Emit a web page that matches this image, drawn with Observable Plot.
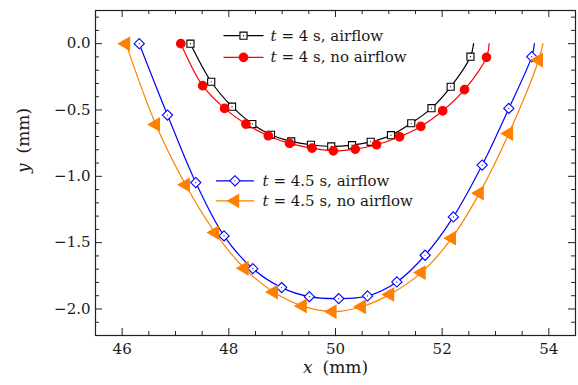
<!DOCTYPE html>
<html><head><meta charset="utf-8">
<script src="https://cdn.jsdelivr.net/npm/d3@7"></script>
<script src="https://cdn.jsdelivr.net/npm/@observablehq/plot@0.6"></script>
<style>body{margin:0;background:#fff} svg{display:block}</style>
</head><body><div id="chart"></div>
<script>
// t = 4 s, airflow
const xA4 = [47.28, 47.67, 48.06, 48.44, 48.79, 49.17, 49.54, 49.92, 50.31, 50.66, 51.04, 51.42, 51.80, 52.16, 52.53, 52.59];
const yA4 = [0.0, -0.287, -0.475, -0.606, -0.687, -0.737, -0.762, -0.775, -0.765, -0.740, -0.690, -0.600, -0.486, -0.325, -0.098, 0.0];
// t = 4 s, no airflow
const xN4 = [47.10, 47.51, 47.92, 48.32, 48.74, 49.14, 49.56, 49.96, 50.37, 50.77, 51.20, 51.60, 52.01, 52.42, 52.83, 52.88];
const yN4 = [0.0, -0.317, -0.488, -0.606, -0.694, -0.752, -0.787, -0.808, -0.795, -0.762, -0.702, -0.624, -0.506, -0.347, -0.103, 0.0];
// t = 4.5 s, airflow
const xA45 = [46.32, 46.85, 47.38, 47.91, 48.45, 48.99, 49.51, 50.06, 50.60, 51.15, 51.68, 52.21, 52.75, 53.25, 53.68, 53.73];
const yA45 = [0.0, -0.538, -1.047, -1.449, -1.696, -1.839, -1.907, -1.922, -1.902, -1.796, -1.595, -1.306, -0.915, -0.488, -0.098, 0.0];
// t = 4.5 s, no airflow
const xN45 = [46.07, 46.63, 47.19, 47.74, 48.29, 48.84, 49.38, 49.94, 50.49, 51.02, 51.61, 52.18, 52.70, 53.25, 53.81, 53.89];
const yN45 = [0.0, -0.609, -1.064, -1.424, -1.693, -1.872, -1.977, -2.020, -1.983, -1.890, -1.726, -1.466, -1.127, -0.677, -0.123, 0.0];

const seriesLabels = ["t = 4 s, airflow", "t = 4 s, no airflow", "t = 4.5 s, airflow", "t = 4.5 s, no airflow"];
const xTicks = [46, 48, 50, 52, 54];
const yTicks = [0.0, -0.5, -1.0, -1.5, -2.0];
const xTitle = "x (mm)", yTitle = "y (mm)";

const W = 578, H = 385, mL = 95, mR = 3, mT = 10, mB = 50;
const plotW = W - mL - mR, plotH = H - mT - mB;
const FONT = "DejaVu Serif";
const TXT = "#1a1a1a";

const styles = [
  {color: "#000000", symbol: "square", r: 4.0, fill: "white", open: true, rotate: 0},
  {color: "#ff0000", symbol: "circle", r: 4.3, fill: "#ff0000", open: false, rotate: 0},
  {color: "#0000ff", symbol: "diamond2", r: 4.6, fill: "white", open: true, rotate: 0},
  {color: "#ff7f00", symbol: "triangle", r: 4.8, fill: "#ff7f00", open: false, rotate: -90}
];
const xsAll = [xA4, xN4, xA45, xN45], ysAll = [yA4, yN4, yA45, yN45];
const series = xsAll.map((xs, i) => ({
  label: seriesLabels[i], style: styles[i],
  rows: xs.map((x, j) => ({x, y: ysAll[i][j], end: j === xs.length - 1}))
}));

// legend placement (data units)
const legendRows = [
  {i: 0, x1: 47.90, x2: 48.65, xt: 48.78, y: 0.06},
  {i: 1, x1: 47.90, x2: 48.65, xt: 48.78, y: -0.103},
  {i: 2, x1: 47.76, x2: 48.47, xt: 48.63, y: -1.034},
  {i: 3, x1: 47.76, x2: 48.47, xt: 48.63, y: -1.185}
];

const xMinor = d3.range(45.5, 54.51, 0.5).filter(v => !xTicks.includes(v));
const yMinor = d3.range(-22, 3, 1).map(v => v / 10).filter(v => !yTicks.some(t => Math.abs(t - v) < 1e-9));

const marks = [];
// ticks inward on all sides
const tickLen = {maj: 7, min: 4};
for (const [vals, len] of [[xTicks, tickLen.maj], [xMinor, tickLen.min]]) {
  marks.push(Plot.tickX(vals, {x: d => d, insetTop: plotH - len, stroke: "#222", strokeWidth: 1}));
  marks.push(Plot.tickX(vals, {x: d => d, insetBottom: plotH - len, stroke: "#222", strokeWidth: 1}));
}
for (const [vals, len] of [[yTicks, tickLen.maj], [yMinor, tickLen.min]]) {
  marks.push(Plot.tickY(vals, {y: d => d, insetRight: plotW - len, stroke: "#222", strokeWidth: 1}));
  marks.push(Plot.tickY(vals, {y: d => d, insetLeft: plotW - len, stroke: "#222", strokeWidth: 1}));
}
marks.push(Plot.axisX({ticks: xTicks, tickSize: 0, tickPadding: 8, label: null, tickFormat: d3.format("d"), fontSize: 15, fill: TXT}));
marks.push(Plot.axisY({ticks: yTicks, tickSize: 0, tickPadding: 5, label: null, tickFormat: d3.format(".1f"), fontSize: 15, fill: TXT}));

for (const s of series) {
  const st = s.style;
  marks.push(Plot.line(s.rows, {x: "x", y: "y", stroke: st.color, strokeWidth: 1.2, curve: "catmull-rom"}));
  const pts = s.rows.filter(d => !d.end);
  marks.push(Plot.dot(pts, {x: "x", y: "y", symbol: st.symbol, r: st.r, fill: st.fill, stroke: st.color, strokeWidth: 1.1, rotate: st.rotate}));
  if (st.open) marks.push(Plot.dot(pts, {x: "x", y: "y", r: 0.6, fill: st.color, stroke: "none"}));
}
// legend
for (const L of legendRows) {
  const st = styles[L.i];
  marks.push(Plot.link([L], {x1: "x1", x2: "x2", y1: "y", y2: "y", stroke: st.color, strokeWidth: 1.2}));
  marks.push(Plot.dot([L], {x: d => (d.x1 + d.x2) / 2, y: "y", symbol: st.symbol, r: st.r, fill: st.fill, stroke: st.color, strokeWidth: 1.1, rotate: st.rotate}));
  if (st.open) marks.push(Plot.dot([L], {x: d => (d.x1 + d.x2) / 2, y: "y", r: 0.6, fill: st.color, stroke: "none"}));
  marks.push(Plot.text([L], {x: "xt", y: "y", text: d => seriesLabels[d.i], textAnchor: "start", fontSize: 15, fill: TXT}));
}
// axis titles
marks.push(Plot.text([xTitle], {frameAnchor: "bottom", lineAnchor: "middle", text: d => d, dy: 32, fontSize: 17, fill: TXT}));
marks.push(Plot.text([yTitle], {frameAnchor: "left", lineAnchor: "middle", text: d => d, dx: -72, rotate: -90, fontSize: 17, fill: TXT}));
marks.push(Plot.frame({stroke: "#222", strokeWidth: 1.2}));

const plot = Plot.plot({
  width: W, height: H, marginLeft: mL, marginRight: mR, marginTop: mT, marginBottom: mB,
  x: {domain: [45.5, 54.5]},
  y: {domain: [-2.2, 0.25]},
  style: {fontFamily: FONT, fontSize: "15px", color: TXT, background: "white"},
  marks
});
// italicize math variables (t, x, y)
d3.select(plot).selectAll("text").each(function () {
  const t = this.textContent;
  const m = /^([txy]) (.*)$/.exec(t);
  if (!m) return;
  const el = d3.select(this);
  const isTitle = t === xTitle || t === yTitle;
  el.text(null);
  el.append("tspan").attr("font-style", "italic").text(m[1]);
  el.append("tspan").attr("dx", isTitle ? 10 : 5).text(m[2]);
});
document.getElementById("chart").appendChild(plot);
</script>
</body></html>
